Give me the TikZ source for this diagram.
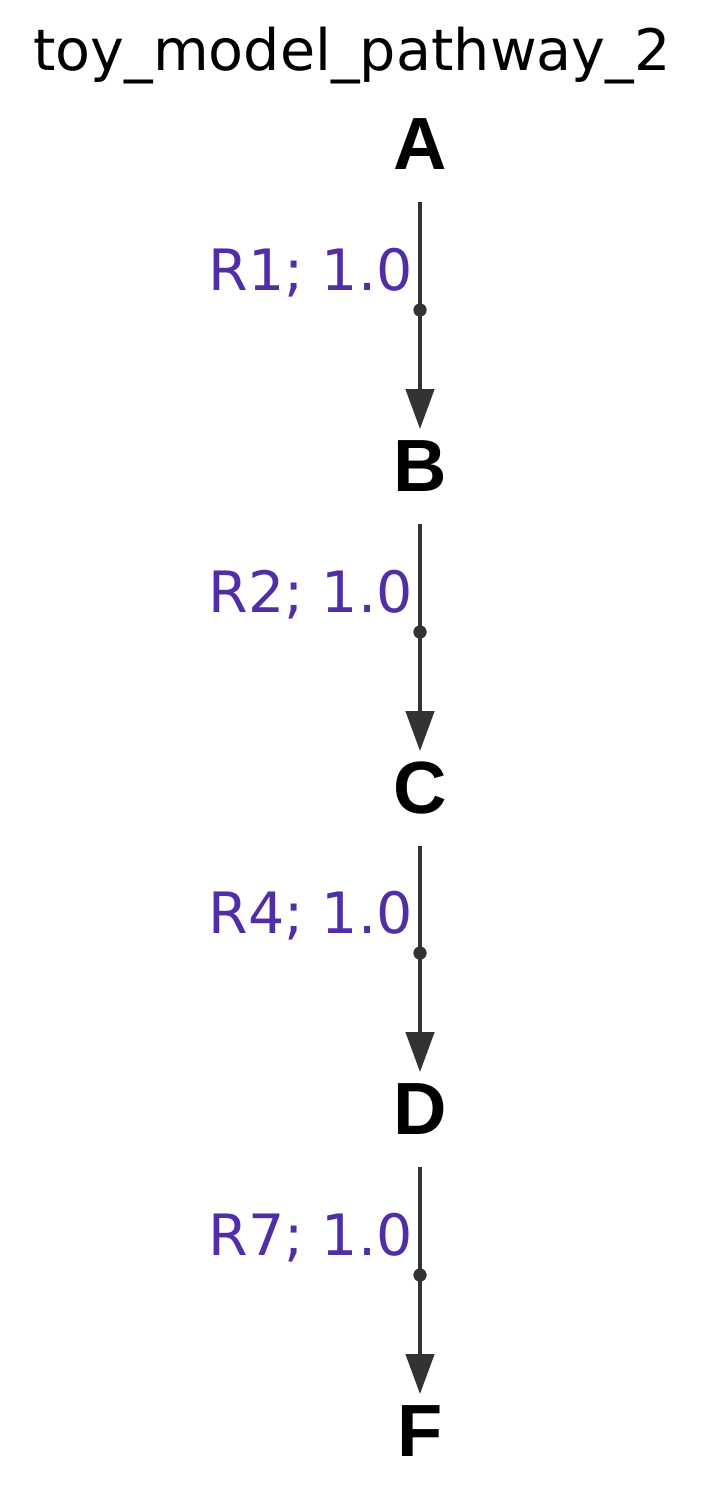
\documentclass[tikz,border=0pt]{standalone}
\usepackage{fontspec}
\setmainfont{DejaVu Sans}
\newfontfamily\nodefont{Liberation Sans}
\usetikzlibrary{arrows.meta}
\definecolor{rxnpurple}{HTML}{512DA8}
\definecolor{edgegray}{HTML}{333333}
\tikzset{
  species/.style={inner sep=0pt, text height=26.5pt, text depth=0pt,
    font=\nodefont\fontsize{37}{37}\selectfont\bfseries},
  rxnlabel/.style={anchor=base east, inner sep=0pt, text=rxnpurple,
    font=\fontsize{28.5}{28.5}\selectfont},
  rxndot/.style={circle, fill=edgegray, inner sep=0pt, minimum size=6.5pt},
  edge/.style={line width=2.2pt, draw=edgegray},
  arrowedge/.style={edge, -{Triangle[length=20pt, width=14pt]}}
}
\begin{document}
\begin{tikzpicture}[x=0.5pt, y=-0.5pt]
  \useasboundingbox (0,0) rectangle (706,1500);
  \node[anchor=base, inner sep=0pt, font=\fontsize{28.6}{28.6}\selectfont] (title) at (352,70) {toy\_model\_pathway\_2};
  % species
  \node[species] (A) at (420,143) {A};
  \node[species] (B) at (420,465) {B};
  \node[species] (C) at (420,787) {C};
  \node[species] (D) at (420,1108) {D};
  \node[species] (F) at (420,1430) {F};
  % reactions
  \node[rxndot] (r1) at (420,310) {};
  \node[rxndot] (r2) at (420,632) {};
  \node[rxndot] (r4) at (420,953) {};
  \node[rxndot] (r7) at (420,1275) {};
  \node[rxnlabel] (l1) at (413,290) {R1; 1.0};
  \node[rxnlabel] (l2) at (413,612) {R2; 1.0};
  \node[rxnlabel] (l4) at (413,933) {R4; 1.0};
  \node[rxnlabel] (l7) at (413,1255) {R7; 1.0};
  \draw[edge, shorten <=16pt] (A) -- (r1.center);
  \draw[arrowedge, shorten >=4.5pt] (r1.center) -- (B);
  \draw[edge, shorten <=16pt] (B) -- (r2.center);
  \draw[arrowedge, shorten >=4.5pt] (r2.center) -- (C);
  \draw[edge, shorten <=16pt] (C) -- (r4.center);
  \draw[arrowedge, shorten >=4.5pt] (r4.center) -- (D);
  \draw[edge, shorten <=16pt] (D) -- (r7.center);
  \draw[arrowedge, shorten >=4.5pt] (r7.center) -- (F);
  \node[rxndot] at (r1) {};
  \node[rxndot] at (r2) {};
  \node[rxndot] at (r4) {};
  \node[rxndot] at (r7) {};
\end{tikzpicture}
\end{document}
